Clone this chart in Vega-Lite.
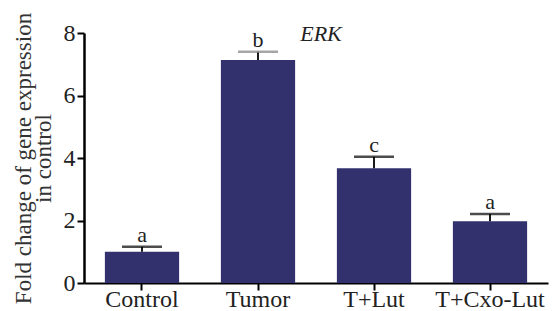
{
  "$schema": "https://vega.github.io/schema/vega-lite/v6.json",
  "autosize": "none",
  "width": 464,
  "height": 250,
  "padding": {"left": 84, "top": 33, "right": 7, "bottom": 28},
  "background": "white",
  "config": {
    "view": {"stroke": null},
    "font": "Liberation Serif"
  },
  "title": {
    "text": "ERK",
    "fontStyle": "italic",
    "fontWeight": "normal",
    "font": "Liberation Serif",
    "fontSize": 22,
    "color": "#222222",
    "anchor": "middle",
    "frame": "group",
    "offset": 0,
    "baseline": "alphabetic",
    "dx": 5,
    "dy": 51
  },
  "data": {
    "values": [
      {"group": "Control", "mean": 1.0, "upper": 1.16, "letter": "a"},
      {"group": "Tumor", "mean": 7.14, "upper": 7.4, "letter": "b"},
      {"group": "T+Lut", "mean": 3.67, "upper": 4.04, "letter": "c"},
      {"group": "T+Cxo-Lut", "mean": 1.98, "upper": 2.21, "letter": "a"}
    ]
  },
  "encoding": {
    "x": {
      "field": "group",
      "type": "nominal",
      "sort": null,
      "scale": {"paddingInner": 0.36, "paddingOuter": 0.18},
      "axis": {
        "title": null,
        "labelAngle": 0,
        "labelFont": "Liberation Serif",
        "labelFontSize": 24,
        "labelColor": "#222222",
        "labelPadding": -3,
        "tickSize": 7,
        "tickWidth": 2,
        "tickColor": "black",
        "domainColor": "black",
        "domainWidth": 2
      }
    }
  },
  "layer": [
    {
      "mark": {"type": "bar", "color": "#33306e"},
      "encoding": {
        "y": {
          "field": "mean",
          "type": "quantitative",
          "scale": {"domain": [0, 8], "nice": false},
          "axis": {
            "values": [0, 2, 4, 6, 8],
            "grid": false,
            "title": ["Fold change of gene expression", "in control"],
            "titleFont": "Liberation Serif",
            "titleFontSize": 23,
            "titleFontWeight": "normal",
            "titleColor": "#333333",
            "titleLineHeight": 20,
            "titlePadding": 8,
            "labelFont": "Liberation Serif",
            "labelFontSize": 24,
            "labelColor": "#222222",
            "labelPadding": 2,
            "tickSize": 7,
            "tickWidth": 2,
            "tickColor": "black",
            "domainColor": "black",
            "domainWidth": 2.5
          }
        }
      }
    },
    {
      "mark": {"type": "rule", "color": "black", "strokeWidth": 1.8},
      "encoding": {
        "y": {"field": "mean", "type": "quantitative"},
        "y2": {"field": "upper"}
      }
    },
    {
      "mark": {"type": "tick", "thickness": 2.5, "size": 40},
      "encoding": {
        "y": {"field": "upper", "type": "quantitative"},
        "color": {
          "condition": {"test": "datum.group === 'Tumor'", "value": "#808080"},
          "value": "black"
        }
      }
    },
    {
      "mark": {"type": "text", "font": "Liberation Serif", "fontSize": 22, "baseline": "alphabetic", "dy": -5, "color": "#222222"},
      "encoding": {
        "y": {"field": "upper", "type": "quantitative"},
        "text": {"field": "letter"}
      }
    }
  ]
}
